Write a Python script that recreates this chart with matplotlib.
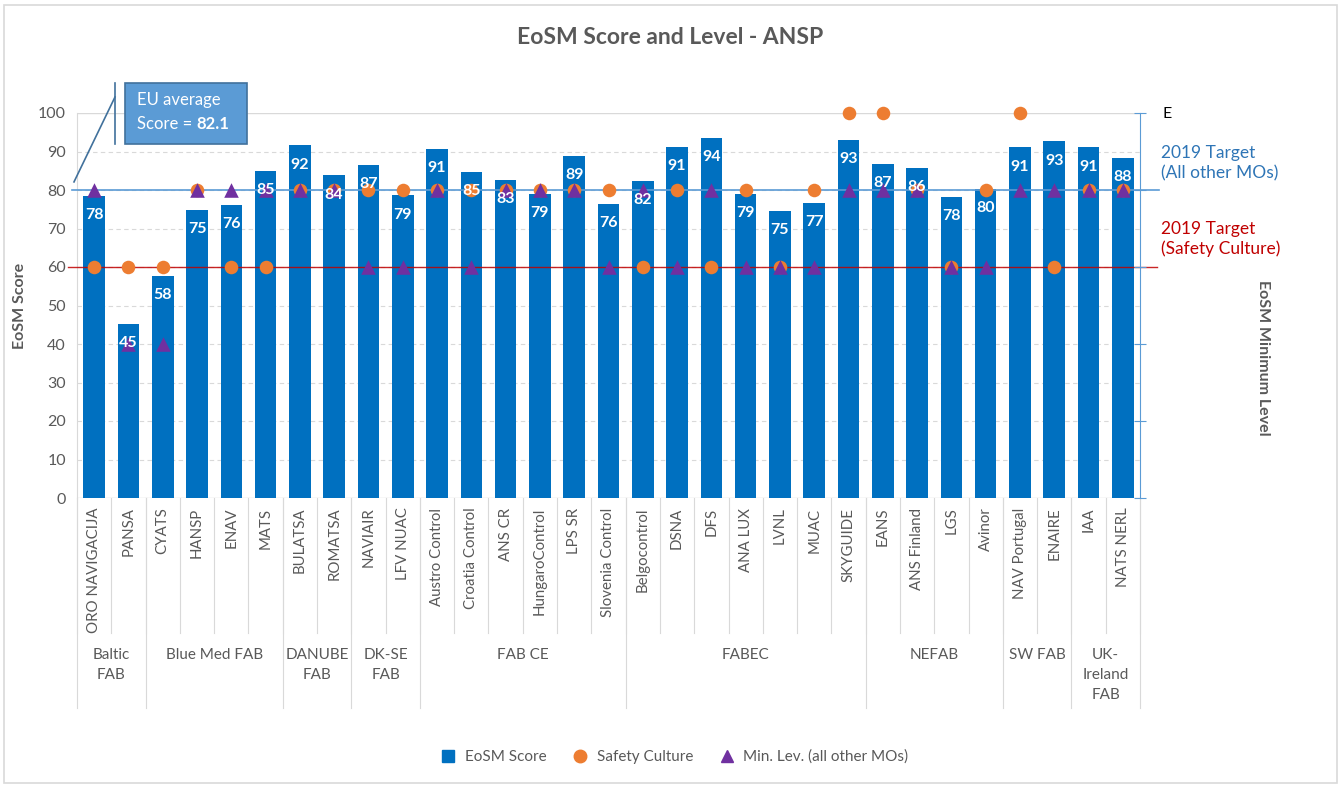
import matplotlib
matplotlib.use('Agg')
import matplotlib.pyplot as plt
from matplotlib.patches import Rectangle
from matplotlib.lines import Line2D
import numpy as np

plt.rcParams['font.family'] = ['Lato', 'DejaVu Sans']

# data
ansps = ['ORO NAVIGACIJA', 'PANSA', 'CYATS', 'HANSP', 'ENAV', 'MATS',
         'BULATSA', 'ROMATSA', 'NAVIAIR', 'LFV NUAC',
         'Austro Control', 'Croatia Control', 'ANS CR', 'HungaroControl', 'LPS SR', 'Slovenia Control',
         'Belgocontrol', 'DSNA', 'DFS', 'ANA LUX', 'LVNL', 'MUAC', 'SKYGUIDE',
         'EANS', 'ANS Finland', 'LGS', 'Avinor',
         'NAV Portugal', 'ENAIRE', 'IAA', 'NATS NERL']
scores = [78.4, 45.3, 57.6, 74.8, 76.1, 84.9,
          91.6, 83.8, 86.6, 78.6,
          90.6, 84.7, 82.6, 79.0, 88.9, 76.4,
          82.3, 91.2, 93.6, 79.0, 74.6, 76.6, 93.1,
          86.8, 85.7, 78.3, 80.2,
          91.1, 92.6, 91.1, 88.3]
safety_culture = [60, 60, 60, 80, 60, 60,
                  80, 80, 80, 80,
                  80, 80, 80, 80, 80, 80,
                  60, 80, 60, 80, 60, 80, 100,
                  100, 80, 60, 80,
                  100, 60, 80, 80]
min_level = [80, 40, 40, 80, 80, 80,
             80, 80, 60, 60,
             80, 60, 80, 80, 80, 60,
             80, 60, 80, 60, 60, 60, 80,
             80, 80, 60, 60,
             80, 80, 80, 80]
fab_names = ['Baltic\nFAB', 'Blue Med FAB', 'DANUBE\nFAB', 'DK-SE\nFAB', 'FAB CE',
             'FABEC', 'NEFAB', 'SW FAB', 'UK-\nIreland\nFAB']
fab_sizes = [2, 4, 2, 2, 6, 7, 4, 2, 2]
eu_average = 82.1
target_other = 80
target_safety = 60

BLUE = '#0070C0'
ORANGE = '#ED7D31'
PURPLE = '#7030A0'
GRAY = '#595959'

fig = plt.figure(figsize=(13.41, 7.85), dpi=100)
ax = fig.add_axes([77/1341, 1-498/785, 1063/1341, 385/785])

x = np.arange(len(ansps))
ax.bar(x, scores, width=0.63, color=BLUE, zorder=2)
ax.scatter(x, safety_culture, s=95, color=ORANGE, marker='o', zorder=4, clip_on=False, linewidths=0)
ax.scatter(x, min_level, s=110, color=PURPLE, marker='^', zorder=5, clip_on=False, linewidths=0)
for xi, v in zip(x, scores):
    ax.text(xi, v - 5, f'{v:.0f}', ha='center', va='center', color='white',
            fontsize=11.5, weight='bold', zorder=6)

ax.set_xlim(-0.5, len(ansps) - 0.5)
ax.set_ylim(0, 100)
ax.set_yticks(range(0, 101, 10))
ax.tick_params(axis='y', length=0, labelsize=11.5, labelcolor=GRAY, pad=8)
ax.set_xticks([])
for s in ['top', 'right', 'bottom']:
    ax.spines[s].set_visible(False)
ax.spines['left'].set_color('#D9D9D9')
for yv in range(10, 100, 10):
    ax.axhline(yv, color='#D9D9D9', lw=0.8, ls=(0, (4, 3)), zorder=0)
ax.axhline(100, color='#D9D9D9', lw=1, zorder=0)
ax.axhline(0, color='#D9D9D9', lw=1, zorder=1)
ax.set_ylabel('EoSM Score', fontsize=11.5, weight='bold', color=GRAY, labelpad=8)

# target lines, extending a little past the plot area
ax.plot([-0.65, 31.05], [target_other] * 2, color='#5B9BD5', lw=1.2, zorder=3, clip_on=False)
ax.plot([-0.75, 31.0], [target_safety] * 2, color='#C00000', lw=1.0, zorder=3, clip_on=False, alpha=0.85)
ax.text(31.1, 87.0, '2019 Target\n(All other MOs)', color='#2E75B6', fontsize=12.5,
        va='center', ha='left', linespacing=1.3)
ax.text(31.1, 67.3, '2019 Target\n(Safety Culture)', color='#C00000', fontsize=12.5,
        va='center', ha='left', linespacing=1.3)

# secondary axis
ax2 = ax.twinx()
ax2.set_ylim(0, 100)
ax2.set_yticks(range(0, 101, 20))
ax2.set_yticklabels(['', '', '', '', '', 'E'])
ax2.tick_params(axis='y', direction='inout', length=9, color='#5B9BD5', labelsize=11.5,
                labelcolor='black', pad=12)
for s in ['top', 'left', 'bottom']:
    ax2.spines[s].set_visible(False)
ax2.spines['right'].set_color('#5B9BD5')
fig.text(1263/1341, 1-358/785, 'EoSM Minimum Level', rotation=-90, fontsize=11.5,
         weight='bold', color=GRAY, ha='center', va='center')

# category labels and group separators
trans = ax.get_xaxis_transform()
for xi, name in zip(x, ansps):
    ax.text(xi, -0.025, name, rotation=90, ha='center', va='top', fontsize=10.8,
            color=GRAY, transform=trans)
for b in np.arange(-0.5, len(ansps), 1.0):
    ax.plot([b, b], [0, -0.35], color='#D9D9D9', lw=0.8, transform=trans, clip_on=False)
edges = np.concatenate([[0], np.cumsum(fab_sizes)]) - 0.5
for i, name in enumerate(fab_names):
    ax.plot([edges[i], edges[i]], [0, -0.545], color='#D9D9D9', lw=0.8, transform=trans, clip_on=False)
    ax.text((edges[i] + edges[i + 1]) / 2, -0.39, name, ha='center', va='top', fontsize=11,
            color=GRAY, transform=trans, linespacing=1.55)
ax.plot([edges[-1], edges[-1]], [0, -0.545], color='#D9D9D9', lw=0.8, transform=trans, clip_on=False)

# EU average callout
fig.patches.append(Rectangle((125/1341, 1-144/785), 122/1341, 61/785, transform=fig.transFigure,
                             facecolor='#5B9BD5', edgecolor='#41719C', lw=1.2, zorder=5))
fig.text(137/1341, 1-100/785, 'EU average', color='white', fontsize=12, va='center', zorder=6)
t_score = fig.text(137/1341, 1-124/785, 'Score = ', color='white', fontsize=12, va='center', zorder=6)
fig.canvas.draw()
bb = t_score.get_window_extent()
fig.text(bb.x1 / fig.bbox.width, 1-124/785, f'{eu_average}', color='white', fontsize=12,
         weight='bold', va='center', zorder=6)
fig.lines.append(Line2D([115/1341, 115/1341], [1-83/785, 1-144/785], transform=fig.transFigure,
                        color='#41719C', lw=1.2))
fig.lines.append(Line2D([115/1341, 74/1341], [1-97/785, 1-(498 - eu_average*3.85)/785],
                        transform=fig.transFigure, color='#41719C', lw=1.2))

fig.text(0.5, 1-38/785, 'EoSM Score and Level - ANSP', ha='center', va='center',
         fontsize=16.5, weight='bold', color=GRAY)

# legend
handles = [Line2D([], [], marker='s', ls='', color=BLUE, ms=8),
           Line2D([], [], marker='o', ls='', color=ORANGE, ms=9),
           Line2D([], [], marker='^', ls='', color=PURPLE, ms=8)]
fig.legend(handles, ['EoSM Score', 'Safety Culture', 'Min. Lev. (all other MOs)'],
           loc='center', bbox_to_anchor=(0.5, 1-757/785), ncol=3, frameon=False,
           fontsize=11, handletextpad=0.1, columnspacing=1.2, labelcolor=GRAY)

# chart border
fig.patches.append(Rectangle((4/1341, 2/785), 1333/1341, 778/785, transform=fig.transFigure,
                             fill=False, edgecolor='#D9D9D9', lw=1.2))

fig.savefig('out.png', dpi=100)
